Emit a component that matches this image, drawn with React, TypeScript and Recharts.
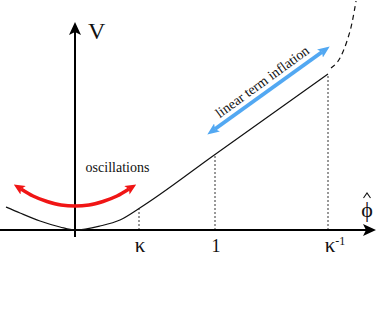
import React from 'react';
import { ComposedChart, Line, XAxis, YAxis, ReferenceLine, ReferenceDot } from 'recharts';

// schematic potential V(phi-hat) (x: field, v: height above the axis)
const curveX = [-69, -55, -35, -15, 0, 25, 45, 64, 140, 253];
const curveV = [23, 17, 9, 3, 0, 4, 10, 21.5, 75.5, 156];
const steepX = [256, 265, 272, 277, 281];
const steepV = [162, 172, 189, 207, 229];
const swingX = [-54, -42, -28, -14, 0, 14, 28, 42, 54];
const swingV = [41, 34, 28.5, 25, 24, 25, 28.5, 34, 41];
const tickX = [64, 140, 253];
const tickV = [21.5, 75.5, 156];
const tickLabels = ['κ', '1', 'κ'];
const tickSups = ['', '', '-1'];
const inflationX = [140, 247];
const inflationV = [101, 178];

const SERIF = '"Liberation Serif", "Times New Roman", serif';

const toPoints = (xs: number[], vs: number[]) => xs.map((x, i) => ({ x, v: vs[i] }));

const curve = toPoints(curveX, curveV);
const steep = toPoints(steepX, steepV);
const swing = toPoints(swingX, swingV);

const AxisTick = (props: any) => {
  const { x, y, payload } = props;
  const i = tickX.indexOf(payload.value);
  const sup = tickSups[i];
  const isKappa = tickLabels[i] === 'κ';
  return (
    <text x={x + (sup ? 7 : 1)} y={y + 15} textAnchor="middle" fontSize={18} fontFamily={SERIF} fill="#111">
      <tspan fontSize={isKappa ? 21 : 18}>{tickLabels[i]}</tspan>
      {sup && <tspan dy={-7} fontSize={12}>{sup}</tspan>}
    </text>
  );
};

const VLabel = ({ viewBox }: any) => (
  <text x={viewBox.x + 13} y={viewBox.y + 7} fontSize={24} fontFamily={SERIF} fill="#111">V</text>
);

// phi with a hat: the accent is drawn as a small stroke above the glyph
const PhiLabel = ({ viewBox }: any) => {
  const cx = viewBox.x + viewBox.width + 1;
  const base = viewBox.y - 13;
  return (
    <g>
      <path d={`M${cx - 3.5},${base - 19} L${cx},${base - 24} L${cx + 3.5},${base - 19}`} fill="none" stroke="#111" strokeWidth={1.1} />
      <text x={cx} y={base} textAnchor="middle" fontSize={22} fontFamily={SERIF} fill="#111">ϕ</text>
    </g>
  );
};

const InflationLabel = ({ viewBox }: any) => {
  const tx = viewBox.x + viewBox.width / 2 - 3.5;
  const ty = viewBox.y + viewBox.height / 2 - 5;
  return (
    <text x={tx} y={ty} transform={`rotate(-36, ${tx}, ${ty})`} textAnchor="middle" fontSize={14} fontFamily={SERIF} fill="#111">
      linear term inflation
    </text>
  );
};

const OscLabel = ({ viewBox }: any) => (
  <text x={viewBox.x} y={viewBox.y} textAnchor="middle" fontSize={14} fontFamily={SERIF} fill="#111">
    oscillations
  </text>
);

export default function App() {
  return (
    <div style={{ position: 'absolute', left: 0, top: 0, width: 377, height: 323, background: '#fff' }}>
      <ComposedChart width={377} height={323} margin={{ top: 0, right: 0, bottom: 0, left: 0 }}>
        <defs>
          <marker id="axisHead" viewBox="0 0 13 12" markerWidth={13} markerHeight={12} refX={3} refY={6} orient="auto" markerUnits="userSpaceOnUse">
            <path d="M0,0 L13,6 L0,12 L3,6 Z" fill="#000" />
          </marker>
          <marker id="redHead" viewBox="0 0 11 10" markerWidth={11} markerHeight={10} refX={2.5} refY={5} orient="auto-start-reverse" markerUnits="userSpaceOnUse">
            <path d="M0,0 L11,5 L0,10 L2.5,5 Z" fill="#f01515" />
          </marker>
          <marker id="blueHead" viewBox="0 0 12 10" markerWidth={12} markerHeight={10} refX={2.5} refY={5} orient="auto-start-reverse" markerUnits="userSpaceOnUse">
            <path d="M0,0 L12,5 L0,10 L2.5,5 Z" fill="#52a8f2" />
          </marker>
        </defs>
        <XAxis
          type="number"
          dataKey="x"
          domain={[-75, 302]}
          allowDataOverflow
          ticks={tickX}
          interval={0}
          height={86}
          axisLine={false}
          tickLine={false}
          tickSize={0}
          tickMargin={0}
          tick={<AxisTick />}
        />
        <YAxis type="number" dataKey="v" domain={[-7, 230]} allowDataOverflow hide />

        {tickX.map((x, i) => (
          <ReferenceLine
            key={x}
            segment={[{ x, y: 0 }, { x, y: tickV[i] }]}
            stroke="#333"
            strokeWidth={1}
            strokeDasharray="2 2"
          />
        ))}

        <ReferenceLine
          segment={[{ x: -75, y: 0 }, { x: 291, y: 0 }]}
          stroke="#000"
          strokeWidth={2}
          markerEnd="url(#axisHead)"
          label={PhiLabel}
        />
        <ReferenceLine
          segment={[{ x: 0, y: -7 }, { x: 0, y: 198 }]}
          stroke="#000"
          strokeWidth={2}
          markerEnd="url(#axisHead)"
          label={VLabel}
        />

        <Line data={curve} dataKey="v" type="monotone" stroke="#111" strokeWidth={1.2} dot={false} activeDot={false} isAnimationActive={false} />
        <Line data={steep} dataKey="v" type="monotone" stroke="#111" strokeWidth={1.2} strokeDasharray="5 4" dot={false} activeDot={false} isAnimationActive={false} />
        <Line
          data={swing}
          dataKey="v"
          type="monotone"
          stroke="#f01515"
          strokeWidth={3.5}
          markerStart="url(#redHead)"
          markerEnd="url(#redHead)"
          dot={false}
          activeDot={false}
          isAnimationActive={false}
        />

        <ReferenceLine
          segment={[{ x: inflationX[0], y: inflationV[0] }, { x: inflationX[1], y: inflationV[1] }]}
          stroke="#52a8f2"
          strokeWidth={4}
          markerStart="url(#blueHead)"
          markerEnd="url(#blueHead)"
          label={InflationLabel}
        />
        <ReferenceDot x={42.5} y={58} r={0} fill="none" stroke="none" label={OscLabel} />
      </ComposedChart>
    </div>
  );
}
